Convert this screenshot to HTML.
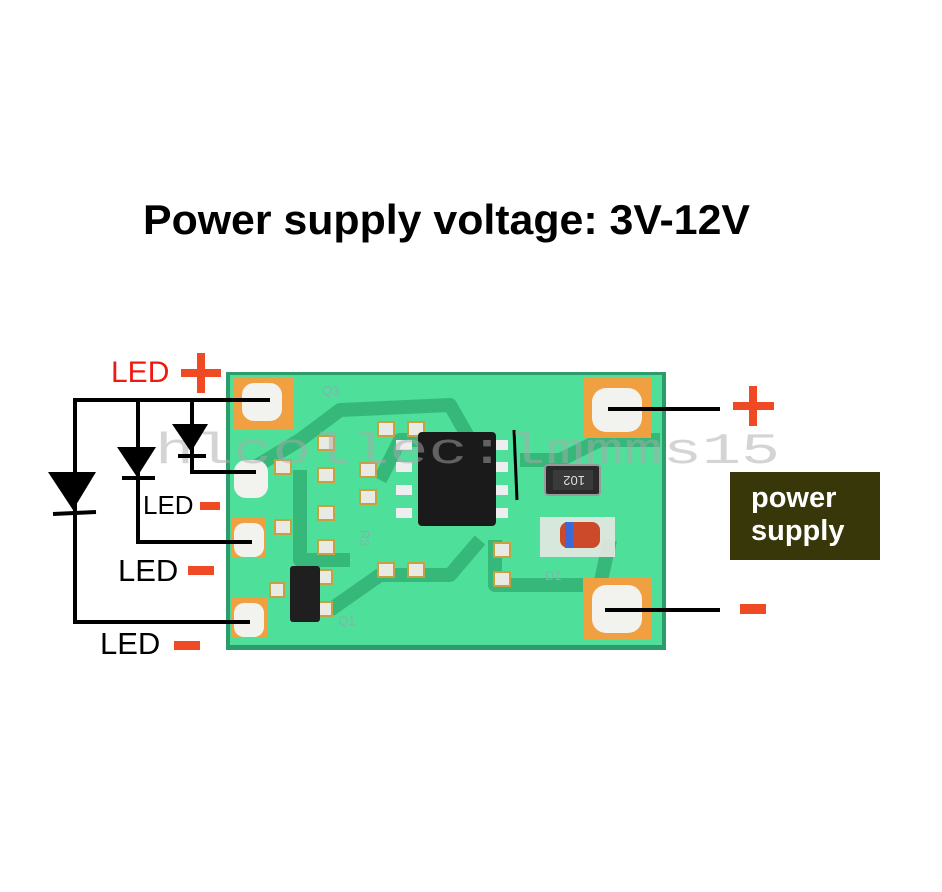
<!DOCTYPE html>
<html><head><meta charset="utf-8"><style>
html,body{margin:0;padding:0;background:#fff;}
svg{display:block}
</style></head><body>
<svg width="942" height="892" viewBox="0 0 942 892" xmlns="http://www.w3.org/2000/svg">
<rect width="942" height="892" fill="#fff"/>
<text x="143" y="234" font-family="'Comic Sans MS','Liberation Sans',sans-serif" font-weight="bold" font-size="42" textLength="607" lengthAdjust="spacingAndGlyphs" fill="#000">Power supply voltage: 3V-12V</text>

<!-- board -->
<rect x="226" y="372" width="440" height="278" fill="#2e9c6a"/>
<rect x="230" y="375" width="432" height="270" fill="#4ee09a"/>
<!-- traces -->
<g fill="none" stroke="#36b87a" stroke-width="14" stroke-linejoin="round">
<path d="M250 470 L300 440 L340 410 L450 405 L470 440"/>
<path d="M300 470 L300 560 L350 560"/>
<path d="M380 480 L400 440 L480 440"/>
<path d="M330 610 L380 575 L450 575 L480 540"/>
<path d="M495 540 L495 585 L600 585 L610 540"/>
<path d="M520 460 L560 460 L600 440 L660 440"/>
</g>
<!-- pads -->
<g fill="#f0a040">
<rect x="234" y="378" width="60" height="52"/>
<rect x="583" y="378" width="68" height="60"/>
<rect x="583" y="578" width="68" height="62"/>
<rect x="232" y="598" width="36" height="40"/>
<rect x="232" y="518" width="34" height="40"/>
</g>
<g fill="#f2f2ee">
<rect x="242" y="383" width="40" height="38" rx="12"/>
<rect x="592" y="388" width="50" height="44" rx="14"/>
<rect x="592" y="585" width="50" height="48" rx="14"/>
<rect x="234" y="460" width="34" height="38" rx="12"/>
<rect x="234" y="523" width="30" height="34" rx="10"/>
<rect x="234" y="603" width="30" height="34" rx="10"/>
</g>
<!-- small SMD pads -->
<g fill="#eaeae4" stroke="#c8a040" stroke-width="2">
<rect x="318" y="436" width="16" height="14"/><rect x="318" y="468" width="16" height="14"/>
<rect x="318" y="506" width="16" height="14"/><rect x="318" y="540" width="16" height="14"/>
<rect x="360" y="463" width="16" height="14"/><rect x="360" y="490" width="16" height="14"/>
<rect x="378" y="422" width="16" height="14"/><rect x="408" y="422" width="16" height="14"/>
<rect x="378" y="563" width="16" height="14"/><rect x="408" y="563" width="16" height="14"/>
<rect x="494" y="543" width="16" height="14"/><rect x="494" y="572" width="16" height="14"/>
<rect x="275" y="460" width="16" height="14"/><rect x="275" y="520" width="16" height="14"/>
<rect x="270" y="583" width="14" height="14"/><rect x="318" y="570" width="14" height="14"/><rect x="318" y="602" width="14" height="14"/>
</g>
<!-- IC -->
<g fill="#eee"><rect x="396" y="440" width="16" height="10"/><rect x="396" y="462" width="16" height="10"/><rect x="396" y="485" width="16" height="10"/><rect x="396" y="508" width="16" height="10"/>
<rect x="492" y="440" width="16" height="10"/><rect x="492" y="462" width="16" height="10"/><rect x="492" y="485" width="16" height="10"/><rect x="492" y="508" width="16" height="10"/></g>
<rect x="418" y="432" width="78" height="94" rx="4" fill="#1a1a1a"/>
<line x1="514" y1="430" x2="517" y2="500" stroke="#000" stroke-width="3"/>
<!-- resistor 102 -->
<rect x="545" y="465" width="55" height="30" rx="3" fill="#2a2a2a" stroke="#999" stroke-width="2"/>
<rect x="553" y="470" width="40" height="20" fill="#3a3a3a"/>
<text x="561" y="486" font-family="Liberation Sans,sans-serif" font-size="13" fill="#ddd" transform="rotate(180 573 481)">102</text>
<!-- diode D1 -->
<rect x="540" y="517" width="75" height="40" fill="#e8e8e2" opacity="0.9"/>
<rect x="560" y="522" width="40" height="26" rx="8" fill="#cc4a2a"/>
<rect x="565" y="522" width="8" height="26" fill="#3a6ad8"/>
<!-- transistor Q1 -->
<rect x="290" y="566" width="30" height="56" rx="3" fill="#1f1f1f"/>
<g font-family="Liberation Sans,sans-serif" font-size="13" fill="#7ab8a8">
<text x="322" y="395">Q3</text><text x="355" y="535" transform="rotate(90 360 535)">R3</text><text x="545" y="580">D1</text><text x="338" y="625">Q1</text>
</g>

<!-- watermark -->
<text x="155" y="463" font-family="Liberation Mono,monospace" font-size="44" fill="#aaa" opacity="0.5" textLength="625" lengthAdjust="spacingAndGlyphs">hlcollec:lmmms15</text>

<!-- left wiring -->
<g stroke="#000" stroke-width="4" fill="none">
<path d="M270 400 L75 400 L75 622 L250 622"/>
<path d="M138 400 L138 542 L252 542"/>
<path d="M192 400 L192 472 L256 472"/>
<line x1="53" y1="514" x2="96" y2="512"/>
<line x1="122" y1="478" x2="155" y2="478"/>
<line x1="178" y1="456" x2="206" y2="456"/>
<line x1="608" y1="409" x2="720" y2="409"/>
<line x1="605" y1="610" x2="720" y2="610"/>
</g>
<g fill="#000">
<polygon points="48,472 96,472 73,510"/>
<polygon points="117,447 156,447 137,477"/>
<polygon points="172,424 208,424 191,452"/>
</g>
<g font-family="Liberation Sans,sans-serif">
<text x="111" y="382" font-size="30" fill="#ee1a10">LED</text>
<text x="143" y="514" font-size="26" fill="#000">LED</text>
<text x="118" y="581" font-size="31" fill="#000">LED</text>
<text x="100" y="654" font-size="31" fill="#000">LED</text>
</g>
<g fill="#f04a24">
<rect x="181" y="369" width="40" height="8"/><rect x="197" y="353" width="8" height="40"/>
<rect x="200" y="502" width="20" height="8"/>
<rect x="188" y="566" width="26" height="9"/>
<rect x="174" y="641" width="26" height="9"/>
<rect x="733" y="402" width="41" height="8"/><rect x="749" y="386" width="8" height="40"/>
<rect x="740" y="604" width="26" height="10"/>
</g>
<rect x="730" y="472" width="150" height="88" fill="#38370a"/>
<text x="751" y="507" font-family="Liberation Sans,sans-serif" font-weight="bold" font-size="29" fill="#fff">power</text>
<text x="751" y="540" font-family="Liberation Sans,sans-serif" font-weight="bold" font-size="29" fill="#fff">supply</text>
</svg>
</body></html>
